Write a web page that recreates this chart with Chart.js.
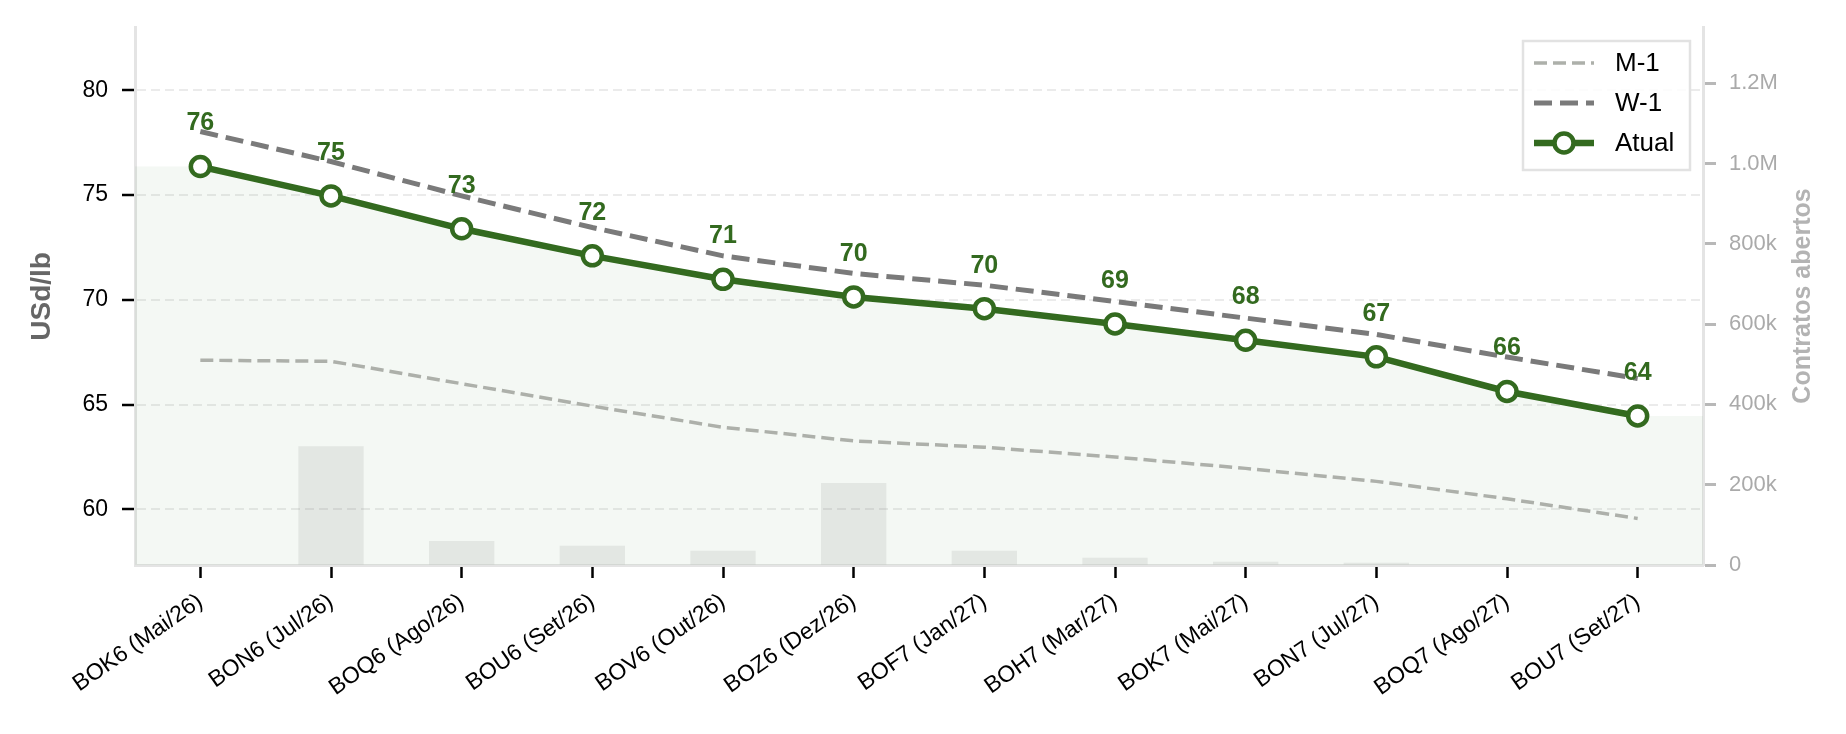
<!DOCTYPE html>
<html>
<head>
<meta charset="utf-8">
<script src="https://cdn.jsdelivr.net/npm/chart.js@4.4.1/dist/chart.umd.min.js"></script>
<style>
  html, body { margin: 0; padding: 0; background: #fff; }
</style>
</head>
<body>
<canvas id="curve" width="1846" height="734"></canvas>
<script>
// curva de futuros - contratos e precos
const contracts = ['BOK6 (Mai/26)', 'BON6 (Jul/26)', 'BOQ6 (Ago/26)', 'BOU6 (Set/26)', 'BOV6 (Out/26)', 'BOZ6 (Dez/26)',
  'BOF7 (Jan/27)', 'BOH7 (Mar/27)', 'BOK7 (Mai/27)', 'BON7 (Jul/27)', 'BOQ7 (Ago/27)', 'BOU7 (Set/27)'];
const atual = [76.36, 74.96, 73.39, 72.10, 70.98, 70.14, 69.58, 68.85, 68.07, 67.28, 65.63, 64.46];
const w1 = [78.03, 76.60, 74.96, 73.45, 72.10, 71.26, 70.70, 69.92, 69.13, 68.35, 67.27, 66.25];
const m1 = [67.12, 67.07, 66.00, 64.93, 63.92, 63.27, 62.97, 62.50, 61.96, 61.34, 60.51, 59.57];
const openInterest = [0, 296000, 60000, 48000, 35500, 204000, 35500, 18000, 8000, 5500, 0, 0];
const priceTicks = [60, 65, 70, 75, 80];
const oiTicks = [0, 200000, 400000, 600000, 800000, 1000000, 1200000];

const GREEN = '#336a1f';
const FONT = "'Liberation Sans', Arial, sans-serif";
Chart.defaults.font.family = FONT;

// sombra verde abaixo da curva atual, esticada ate as bordas
const areaFill = {
  id: 'areaFill',
  beforeDatasetsDraw(chart) {
    const pts = chart.getDatasetMeta(3).data;
    const {left, right, bottom} = chart.chartArea;
    const c = chart.ctx;
    c.save();
    c.beginPath();
    c.moveTo(left, bottom);
    c.lineTo(left, pts[0].y);
    pts.forEach(p => c.lineTo(p.x, p.y));
    c.lineTo(right, pts[pts.length - 1].y);
    c.lineTo(right, bottom);
    c.closePath();
    c.fillStyle = 'rgba(46,125,50,0.055)';
    c.fill();
    c.restore();
  }
};

// rotulos de valor acima dos pontos
const valueLabels = {
  id: 'valueLabels',
  afterDatasetsDraw(chart) {
    const c = chart.ctx;
    const pts = chart.getDatasetMeta(3).data;
    c.save();
    c.font = 'bold 25px ' + FONT;
    c.fillStyle = GREEN;
    c.textAlign = 'center';
    c.textBaseline = 'middle';
    pts.forEach((p, i) => c.fillText(String(Math.round(atual[i])), p.x, p.y - 43));
    c.restore();
  }
};

// legenda + titulo do eixo direito
const extras = {
  id: 'extras',
  afterDraw(chart) {
    const c = chart.ctx;
    c.save();
    // titulo direito (lido de baixo pra cima)
    c.translate(1803, 296);
    c.rotate(-Math.PI / 2);
    c.font = 'bold 25px ' + FONT;
    c.fillStyle = '#b3b3b3';
    c.textAlign = 'center';
    c.textBaseline = 'middle';
    c.fillText('Contratos abertos', 0, 0);
    c.restore();

    c.save();
    c.fillStyle = 'rgba(255,255,255,0.85)';
    c.fillRect(1523, 41, 167, 129);
    c.strokeStyle = '#e2e2e2';
    c.lineWidth = 2.5;
    c.strokeRect(1523, 41, 167, 129);
    const items = [chart.data.datasets[1], chart.data.datasets[2], chart.data.datasets[3]];
    items.forEach((ds, i) => {
      const y = 63 + i * 40;
      c.beginPath();
      c.setLineDash(ds.borderDash || []);
      c.strokeStyle = ds.borderColor;
      c.lineWidth = ds.borderWidth;
      c.moveTo(1534, y);
      c.lineTo(1594, y);
      c.stroke();
      c.setLineDash([]);
      if (ds.pointRadius) {
        c.beginPath();
        c.arc(1564, y, ds.pointRadius, 0, Math.PI * 2);
        c.fillStyle = ds.pointBackgroundColor;
        c.fill();
        c.lineWidth = ds.pointBorderWidth;
        c.strokeStyle = ds.pointBorderColor;
        c.stroke();
      }
      c.font = '26px ' + FONT;
      c.fillStyle = '#000';
      c.textAlign = 'left';
      c.textBaseline = 'middle';
      c.fillText(ds.label, 1615, y + 1);
    });
    c.restore();
  }
};

const fmtOI = v => v === 0 ? '0' : (v >= 1000000 ? (v / 1000000).toFixed(1) + 'M' : (v / 1000) + 'k');

new Chart(document.getElementById('curve').getContext('2d'), {
  type: 'bar',
  data: {
    labels: contracts,
    datasets: [
      {
        type: 'bar',
        label: 'Contratos abertos',
        data: openInterest,
        yAxisID: 'y1',
        backgroundColor: 'rgba(128,128,128,0.14)',
        barPercentage: 0.5,
        categoryPercentage: 1,
        order: 4
      },
      {
        type: 'line',
        label: 'M-1',
        data: m1,
        yAxisID: 'y',
        borderColor: '#adb0aa',
        borderWidth: 3.5,
        borderDash: [13, 6],
        pointRadius: 0,
        tension: 0,
        order: 3
      },
      {
        type: 'line',
        label: 'W-1',
        data: w1,
        yAxisID: 'y',
        borderColor: '#7a7a7a',
        borderWidth: 5,
        borderDash: [18, 8],
        pointRadius: 0,
        tension: 0,
        order: 2
      },
      {
        type: 'line',
        label: 'Atual',
        data: atual,
        yAxisID: 'y',
        borderColor: GREEN,
        borderWidth: 6.5,
        pointRadius: 9.5,
        pointBorderWidth: 4.5,
        pointBackgroundColor: '#fff',
        pointBorderColor: GREEN,
        tension: 0,
        order: 1
      }
    ]
  },
  options: {
    responsive: false,
    animation: false,
    devicePixelRatio: 1,
    layout: { padding: { top: 27, left: 0, right: 0, bottom: 0 } },
    plugins: {
      legend: { display: false },
      tooltip: { enabled: false }
    },
    scales: {
      x: {
        offset: true,
        grid: { display: true, drawOnChartArea: false, drawTicks: true, offset: false,
          tickLength: 13, tickColor: '#000', tickWidth: 2.5 },
        border: { display: true, color: '#e4e4e4', width: 3 },
        ticks: { autoSkip: false, minRotation: 35, maxRotation: 35, color: '#000',
          font: { size: 23 }, padding: 10 },
        afterFit: s => { s.height = 169; }
      },
      y: {
        position: 'left',
        min: 57.35,
        max: 82.98,
        afterBuildTicks: s => { s.ticks = priceTicks.map(v => ({ value: v })); },
        grid: { color: '#ebebeb', lineWidth: 2, tickColor: '#000', tickLength: 13, tickWidth: 2.5, tickBorderDash: [] },
        border: { display: true, color: '#e4e4e4', width: 3, dash: [9, 5] },
        ticks: { color: '#000', font: { size: 23 }, padding: 14 },
        title: { display: true, text: 'USd/lb', color: '#666', font: { size: 28, weight: 'bold' },
          padding: { top: 25, bottom: 0 } },
        afterFit: s => { s.width = 135; }
      },
      y1: {
        position: 'right',
        min: 0,
        max: 1338000,
        afterBuildTicks: s => { s.ticks = oiTicks.map(v => ({ value: v })); },
        grid: { drawOnChartArea: false, tickColor: '#b8b8b8', tickLength: 13, tickWidth: 3 },
        border: { display: true, color: '#e4e4e4', width: 3 },
        ticks: { color: '#aaa', font: { size: 22 }, padding: 13, callback: v => fmtOI(v) },
        afterFit: s => { s.width = 143; }
      }
    }
  },
  plugins: [areaFill, valueLabels, extras]
});
</script>
</body>
</html>
